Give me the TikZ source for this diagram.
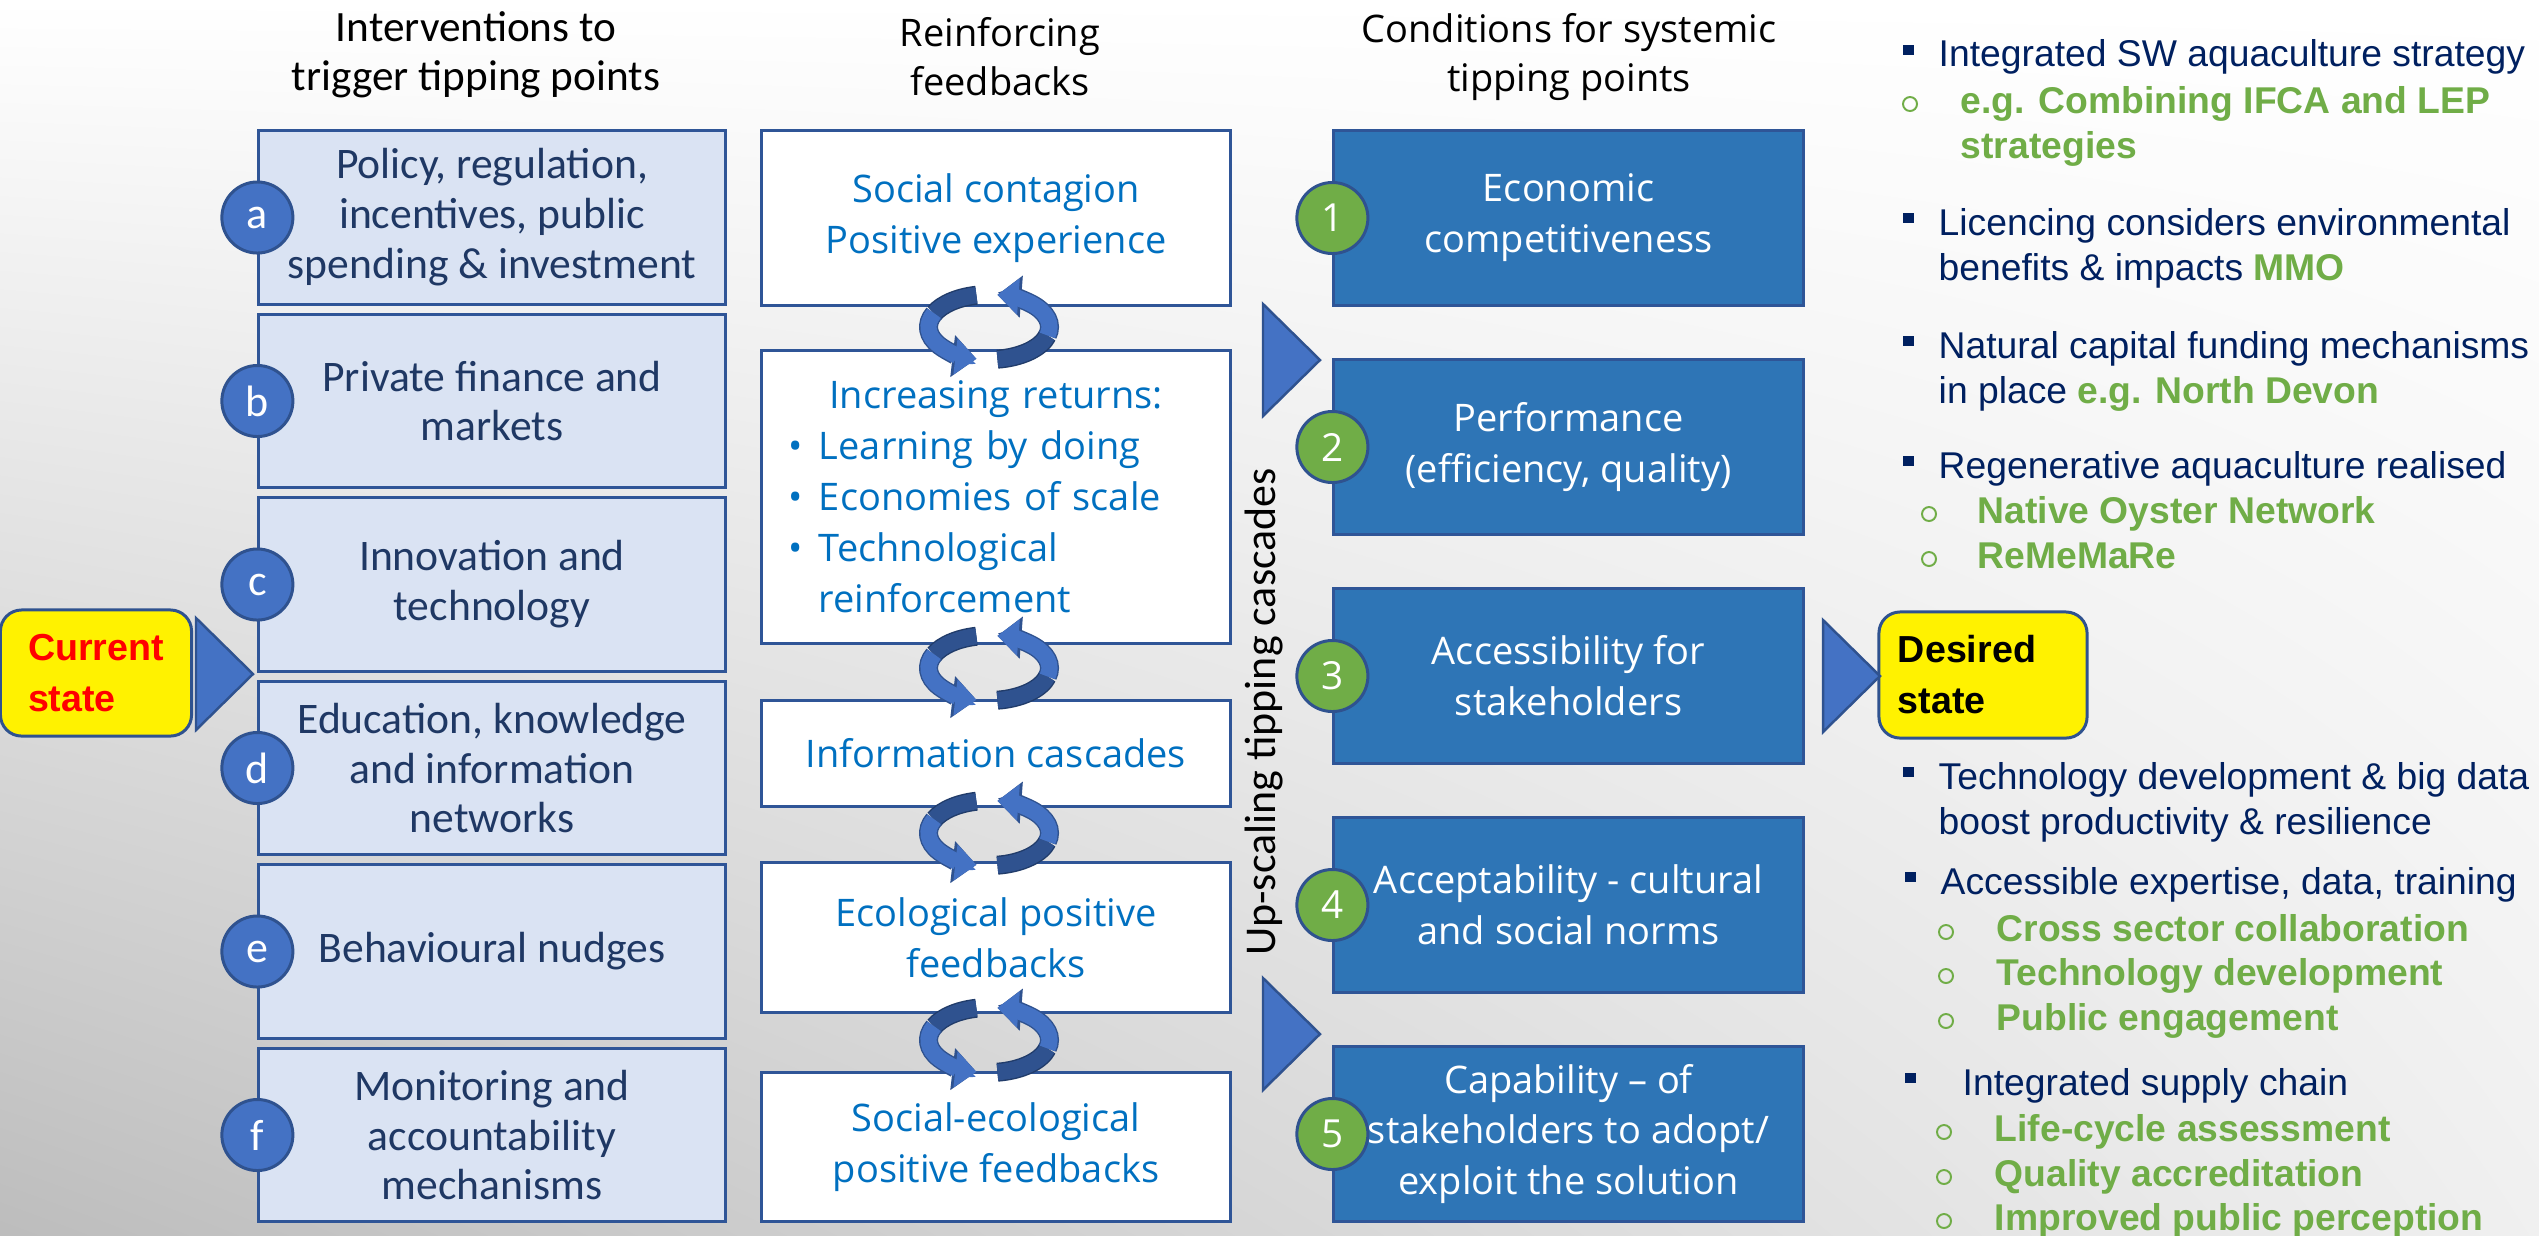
\documentclass[tikz,border=0pt]{standalone}
\usepackage{fontspec}
\setmainfont{Carlito}
\newfontfamily\segoefont{Open Sans}
\newfontfamily\arialfont{Liberation Sans}
\usetikzlibrary{arrows.meta,shadings}

\definecolor{ivfill}{HTML}{DAE3F3}
\definecolor{ivtext}{HTML}{1F3864}
\definecolor{edgeblue}{HTML}{2F5597}
\definecolor{dotblue}{HTML}{4472C4}
\definecolor{loopdark}{HTML}{2F528F}
\definecolor{fbtext}{HTML}{0070C0}
\definecolor{cdfill}{HTML}{2E75B6}
\definecolor{leafgreen}{HTML}{70AD47}
\definecolor{listnavy}{HTML}{002060}

% one pair of circling arrows between two feedback boxes
\newcommand{\feedloop}[2]{%
  \begin{scope}[shift={(#1,#2)}]
    \draw[loopback] ({60.5*cos(258)},{32.5*sin(258)}) arc[start angle=258,end angle=205,x radius=60.5,y radius=32.5];
    \draw[loopfront] ({60.5*cos(205)},{32.5*sin(205)}) arc[start angle=205,end angle=102,x radius=60.5,y radius=32.5];
    \draw[loopback] ({60.5*cos(82)},{32.5*sin(82)}) arc[start angle=82,end angle=15,x radius=60.5,y radius=32.5];
    \draw[loopfront] ({60.5*cos(15)},{32.5*sin(15)}) arc[start angle=15,end angle=-82,x radius=60.5,y radius=32.5];
  \end{scope}}

\tikzset{
  header/.style={align=center, font=\fontsize{12.3}{13.9}\selectfont},
  intervbox/.style={draw=edgeblue, line width=0.85pt, fill=ivfill, minimum width=4.66cm, minimum height=1.73cm, align=center, text=ivtext, font=\fontsize{12.4}{14.2}\selectfont},
  letterdot/.style={circle, draw=loopdark, line width=0.85pt, fill=dotblue, minimum size=0.71cm, inner sep=0pt, text=white, font=\fontsize{12.5}{14}\selectfont},
  feedbox/.style={draw=edgeblue, line width=0.85pt, fill=white, minimum width=4.68cm, align=center, text=fbtext, font=\segoefont\fontsize{10.8}{14.5}\selectfont},
  condbox/.style={draw=edgeblue, line width=0.85pt, fill=cdfill, minimum width=4.69cm, minimum height=1.74cm, align=center, text=white, font=\segoefont\fontsize{10.8}{14.5}\selectfont},
  numdot/.style={circle, draw=loopdark, line width=0.85pt, fill=leafgreen, minimum size=0.71cm, inner sep=0pt, text=white, font=\segoefont\fontsize{11}{13}\selectfont},
  pointer/.style={draw=loopdark, line width=0.7pt, fill=dotblue},
  statebox/.style={draw=loopdark, line width=0.85pt, fill=yellow, rounded corners=6pt, minimum width=1.91cm, minimum height=1.26cm, align=left, font=\arialfont\bfseries\fontsize{10.7}{14.5}\selectfont},
  loopback/.style={draw=loopdark, line width=4.6pt, preaction={draw=edgeblue!70!black, line width=5.4pt}},
  loopfront/.style={draw=dotblue, line width=4.6pt, -{Triangle[length=6pt,width=10pt]}, preaction={draw=loopdark, line width=5.4pt, -{Triangle[length=6.8pt,width=11.6pt]}}},
  listline/.style={anchor=base west, inner sep=0pt, font=\arialfont\fontsize{10.6}{12.7}\selectfont}
}

\begin{document}
\begin{tikzpicture}[x=0.01cm,y=-0.01cm]
  \useasboundingbox (0,0) rectangle (2539,1235);
  \shade[upper left=white, upper right=white, lower right=white!94!black, lower left=white!74!black] (0,0) rectangle (2539,1235);

  % column headers
  \node[header] (hd-iv) at (476,55) {Interventions to\\trigger tipping points};
  \node[header, font=\segoefont\fontsize{10.8}{13.9}\selectfont] (hd-fb) at (1000,57) {Reinforcing\\feedbacks};
  \node[header, font=\segoefont\fontsize{10.8}{13.9}\selectfont] (hd-cd) at (1569,57) {Conditions for systemic\\tipping points};

  % interventions a-f
  \foreach \lab/\txt [count=\i from 0] in {a/{Policy, regulation,\\incentives, public\\spending \& investment}, b/{Private finance and\\markets}, c/{Innovation and\\technology}, d/{Education, knowledge\\and information\\networks}, e/{Behavioural nudges}, f/{Monitoring and\\accountability\\mechanisms}}{
    \node[intervbox] (iv-\lab) at (492,{217.5+183.5*\i}) {\txt};
    \node[letterdot] (ld-\lab) at (iv-\lab.west) {\lab};
  }

  % reinforcing feedbacks
  \node[feedbox, minimum height=1.74cm] (fb-1) at (996,218) {Social contagion\\Positive experience};
  \node[feedbox, minimum height=2.92cm, text width=4.4cm, inner sep=0pt, align=left] (fb-2) at (996,497) {\centering Increasing returns:\par
    \raggedright\hspace*{0.13cm}\makebox[0.3cm][l]{\textbullet}Learning by doing\\
    \hspace*{0.13cm}\makebox[0.3cm][l]{\textbullet}Economies of scale\\
    \hspace*{0.13cm}\makebox[0.3cm][l]{\textbullet}Technological\\
    \hspace*{0.43cm}reinforcement};
  \node[feedbox, minimum height=1.05cm] (fb-3) at (996,753.5) {Information cascades};
  \node[feedbox, minimum height=1.49cm] (fb-4) at (996,937.5) {Ecological positive\\feedbacks};
  \node[feedbox, minimum height=1.48cm] (fb-5) at (996,1147) {Social-ecological\\positive feedbacks};
  \foreach \yc in {327,668,833,1040}{\feedloop{989}{\yc}}

  \node[rotate=90, font=\fontsize{12.5}{14}\selectfont] (upscale) at (1264,712) {Up-scaling tipping cascades};

  % conditions 1-5
  \foreach \txt [count=\i] in {{Economic\\competitiveness}, {Performance\\(efficiency, quality)}, {Accessibility for\\stakeholders}, {Acceptability - cultural\\and social norms}, {Capability – of\\stakeholders to adopt/\\exploit the solution}}{
    \node[condbox] (cd-\i) at (1568.5,{218+229*(\i-1)}) {\txt};
    \node[numdot] (nd-\i) at (cd-\i.west) {\i};
  }

  % states and block pointers
  \node[statebox, text=red] (now) at (96,673) {Current\\state};
  \node[statebox, minimum width=2.08cm, text width=1.7cm] (goal) at (1983,675) {Desired\\state};
  \foreach \tx/\ty in {196/674, 1263/360, 1263/1034, 1823/676}{
    \filldraw[pointer] (\tx,\ty-56) -- (\tx+57,\ty) -- (\tx,\ty+56) -- cycle;
  }

  % examples list
  \foreach \bx/\by in {1908/50, 1908/218, 1908/341, 1908/461, 1908/772, 1910/877, 1910/1078}{
    \fill[listnavy] (\bx-5.5,\by-5) rectangle (\bx+5.5,\by+5);
  }
  \foreach \bx/\by in {1910/104, 1929/514, 1929/559, 1946/932, 1946/976, 1946/1021, 1944/1132, 1944/1177, 1944/1221}{
    \draw[leafgreen, line width=0.55pt] (\bx,\by) circle (7);
  }
  \foreach \tx/\ty/\txt [count=\k] in {1938/53/{Integrated SW aquaculture strategy}, 1938/222/{Licencing considers environmental}, 1938/267/{benefits \& impacts {\bfseries\color{leafgreen}MMO}}, 1938/345/{Natural capital funding mechanisms}, 1938/390/{in place {\bfseries\color{leafgreen}e.g. North Devon}}, 1938/465/{Regenerative aquaculture realised}, 1938/776/{Technology development \& big data}, 1938/821/{boost productivity \& resilience}, 1940/881/{Accessible expertise, data, training}, 1962/1082/{Integrated supply chain}}{
    \node[listline, text=listnavy] (nv-\k) at (\tx,\ty+13) {\txt};
  }
  \foreach \tx/\ty/\txt [count=\k] in {1960/100/{e.g. Combining IFCA and LEP}, 1960/145/{strategies}, 1977/510/{Native Oyster Network}, 1977/555/{ReMeMaRe}, 1996/928/{Cross sector collaboration}, 1996/972/{Technology development}, 1996/1017/{Public engagement}, 1994/1128/{Life-cycle assessment}, 1994/1173/{Quality accreditation}, 1994/1217/{Improved public perception}}{
    \node[listline, text=leafgreen, font=\arialfont\bfseries\fontsize{10.6}{12.7}\selectfont] (gr-\k) at (\tx,\ty+13) {\txt};
  }
\end{tikzpicture}
\end{document}
